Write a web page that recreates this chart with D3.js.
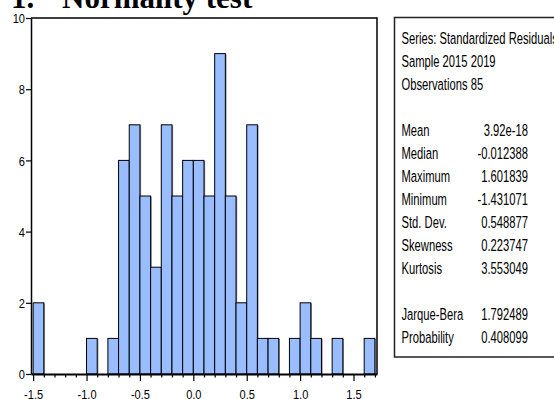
<!DOCTYPE html>
<html>
<head>
<meta charset="utf-8">
<script src="https://cdn.jsdelivr.net/npm/d3@7/dist/d3.min.js"></script>
<style>
  html, body { margin: 0; padding: 0; background: #fff; overflow: hidden; }
  svg { display: block; }
</style>
</head>
<body>
<svg id="chart" width="554" height="399"></svg>
<script>
// Histogram of standardized residuals (bin starts, width 0.1)
const binStarts = [-1.5, -1.4, -1.3, -1.2, -1.1, -1.0, -0.9, -0.8, -0.7, -0.6, -0.5,
                   -0.4, -0.3, -0.2, -0.1, 0.0, 0.1, 0.2, 0.3, 0.4, 0.5, 0.6,
                   0.7, 0.8, 0.9, 1.0, 1.1, 1.2, 1.3, 1.4, 1.5, 1.6];
const counts = [2, 0, 0, 0, 0, 1, 0, 1, 6, 7, 5,
                3, 7, 5, 6, 6, 5, 9, 5, 2, 7, 1,
                1, 0, 1, 2, 1, 0, 1, 0, 0, 1];
const binWidth = 0.1;

const yTicks = [0, 2, 4, 6, 8, 10];
const xMajorTicks = [-1.5, -1.0, -0.5, 0.0, 0.5, 1.0, 1.5];
const xTickLabels = ["-1.5", "-1.0", "-0.5", "0.0", "0.5", "1.0", "1.5"];

// Descriptive statistics panel
const headerLines = ["Series: Standardized Residuals", "Sample 2015 2019", "Observations 85"];
const statNames = ["Mean", "Median", "Maximum", "Minimum", "Std. Dev.", "Skewness", "Kurtosis"];
const statValues = ["3.92e-18", "-0.012388", "1.601839", "-1.431071", "0.548877", "0.223747", "3.553049"];
const testNames = ["Jarque-Bera", "Probability"];
const testValues = ["1.792489", "0.408099"];

const svg = d3.select("#chart");
const SANS = "'Liberation Sans', Arial, sans-serif";
const AX_NARROW = 0.82;  // condensed axis labels
const AX_FS = 13.5;
const PN_NARROW = 0.68;  // tall, condensed panel text
const PN_FS = 16.5;

const plot = { left: 31, right: 377, top: 18, bottom: 374 };
const x = d3.scaleLinear().domain([-1.52, 1.72]).range([plot.left, plot.right]);
const y = d3.scaleLinear().domain([0, 10]).range([plot.bottom, plot.top]);

// Title
const title = svg.append("g")
  .attr("font-family", "'Liberation Serif', 'Times New Roman', serif")
  .attr("font-weight", "bold")
  .attr("font-size", 31)
  .attr("fill", "#000");
title.append("text").attr("x", 11).attr("y", 8).text("1.");
title.append("text").attr("x", 62).attr("y", 8).text("Normality test");

// Bars, each with a faint shadow on its right edge
const bins = binStarts.map((s, i) => ({ start: s, count: counts[i] })).filter(d => d.count > 0);
const barG = svg.append("g");
barG.selectAll("rect.shadow")
  .data(bins)
  .join("rect")
  .attr("class", "shadow")
  .attr("x", d => x(d.start) + 1.2)
  .attr("y", d => y(d.count) + 0.6)
  .attr("width", d => x(d.start + binWidth) - x(d.start))
  .attr("height", d => y(0) - y(d.count) - 0.6)
  .attr("fill", "#8a8f99");
barG.selectAll("rect.bar")
  .data(bins)
  .join("rect")
  .attr("class", "bar")
  .attr("x", d => x(d.start))
  .attr("y", d => y(d.count))
  .attr("width", d => x(d.start + binWidth) - x(d.start))
  .attr("height", d => y(0) - y(d.count))
  .attr("fill", "#99bdff")
  .attr("stroke", "#000")
  .attr("stroke-width", 1);

// Plot frame (top and right)
svg.append("path")
  .attr("d", `M${plot.left},${plot.top}H${plot.right}V${plot.bottom}`)
  .attr("fill", "none")
  .attr("stroke", "#000")
  .attr("stroke-width", 1.5);

// Y axis
const yAxis = svg.append("g")
  .attr("transform", `translate(${plot.left},0)`)
  .call(d3.axisLeft(y).tickValues(yTicks).tickSize(5).tickSizeOuter(0).tickFormat(d => String(d)));
yAxis.select(".domain").attr("stroke-width", 1.5);
yAxis.selectAll(".tick line").attr("stroke-width", 1.2);
yAxis.selectAll("text")
  .attr("font-family", SANS)
  .attr("font-size", AX_FS)
  .attr("fill", "#000")
  .attr("x", -6 / AX_NARROW)
  .attr("dy", "0.35em")
  .attr("transform", `scale(${AX_NARROW},1)`);

// X axis: minor ticks every 0.1, labelled ticks every 0.5
const minorTicks = binStarts.concat([1.7]).filter(v => !xMajorTicks.some(m => Math.abs(m - v) < 1e-9));
const xMinor = svg.append("g")
  .attr("transform", `translate(0,${plot.bottom})`)
  .call(d3.axisBottom(x).tickValues(minorTicks).tickSize(3.5).tickSizeOuter(0).tickFormat(""));
xMinor.select(".domain").attr("stroke-width", 2);
xMinor.selectAll(".tick line").attr("stroke-width", 1.2);

const xMajor = svg.append("g")
  .attr("transform", `translate(0,${plot.bottom})`)
  .call(d3.axisBottom(x).tickValues(xMajorTicks).tickSize(7).tickSizeOuter(0)
    .tickFormat((d, i) => xTickLabels[i]));
xMajor.select(".domain").remove();
xMajor.selectAll(".tick line").attr("stroke-width", 1.2);
xMajor.selectAll("text")
  .attr("font-family", SANS)
  .attr("font-size", AX_FS)
  .attr("fill", "#000")
  .attr("y", 25.5)
  .attr("dy", 0)
  .attr("transform", `scale(${AX_NARROW},1)`);

// Statistics panel
const panel = { left: 394.5, top: 17.5, bottom: 357 };
svg.append("rect")
  .attr("x", panel.left)
  .attr("y", panel.top)
  .attr("width", 200)
  .attr("height", panel.bottom - panel.top)
  .attr("fill", "#fff")
  .attr("stroke", "#222")
  .attr("stroke-width", 1.5);

const rowY = i => 44 + 23 * i;
const labelX = 401.5, valueX = 528;

function panelText(str, px, py, anchor) {
  svg.append("text")
    .attr("transform", `translate(${px},${py}) scale(${PN_NARROW},1)`)
    .attr("font-family", SANS)
    .attr("font-size", PN_FS)
    .attr("fill", "#000")
    .attr("text-anchor", anchor)
    .text(str);
}

headerLines.forEach((s, i) => panelText(s, labelX, rowY(i), "start"));
statNames.forEach((s, i) => {
  panelText(s, labelX, rowY(4 + i), "start");
  panelText(statValues[i], valueX, rowY(4 + i), "end");
});
testNames.forEach((s, i) => {
  panelText(s, labelX, rowY(12 + i), "start");
  panelText(testValues[i], valueX, rowY(12 + i), "end");
});
</script>
</body>
</html>
